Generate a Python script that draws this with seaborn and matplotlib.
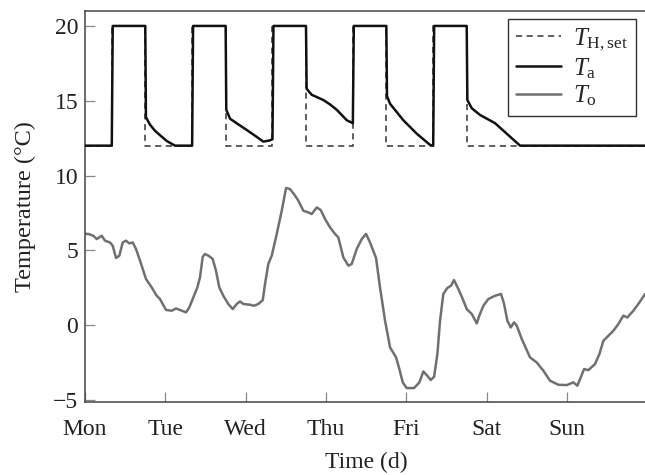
import pandas as pd
import matplotlib
matplotlib.use("Agg")
import matplotlib.pyplot as plt
import seaborn as sns

# heating set-point (step profile, weekdays 8:00-18:00)
set_time = [0, 0.333, 0.75, 1.333, 1.75, 2.333, 2.75, 3.333, 3.75, 4.333, 4.75, 7.0]
set_temp = [12, 20, 12, 20, 12, 20, 12, 20, 12, 20, 12, 12]

# indoor air temperature
ta_time = [0, 0.333, 0.345, 0.75, 0.758, 0.809, 0.87, 0.933, 1.02, 1.12, 1.333, 1.345,
           1.75, 1.758, 1.805, 1.90, 2.012, 2.12, 2.219, 2.30, 2.333, 2.345,
           2.75, 2.758, 2.821, 2.966, 3.05, 3.132, 3.257, 3.333, 3.345,
           3.75, 3.758, 3.796, 3.961, 4.128, 4.294, 4.333, 4.345,
           4.75, 4.758, 4.813, 4.916, 5.103, 5.248, 5.414, 7.0]
ta_temp = [12, 12, 20, 20, 13.9, 13.4, 13.0, 12.7, 12.3, 12.0, 12.0, 20,
           20, 14.4, 13.8, 13.45, 13.05, 12.65, 12.27, 12.35, 12.43, 20,
           20, 15.8, 15.4, 15.05, 14.75, 14.4, 13.7, 13.5, 20,
           20, 15.3, 14.8, 13.7, 12.8, 12.05, 12.0, 20,
           20, 15.05, 14.5, 14.05, 13.5, 12.8, 12.0, 12.0]

# outdoor temperature
to_time = [0.0, 0.041, 0.103, 0.146, 0.208, 0.249, 0.311, 0.345, 0.386, 0.427, 0.469,
           0.510, 0.551, 0.594, 0.635, 0.685, 0.759, 0.830, 0.892, 0.933, 1.008,
           1.079, 1.133, 1.182, 1.257, 1.298, 1.348, 1.398, 1.431, 1.465, 1.493,
           1.535, 1.589, 1.630, 1.671, 1.721, 1.783, 1.838, 1.888, 1.929, 1.970,
           2.054, 2.103, 2.157, 2.212, 2.240, 2.281, 2.324, 2.386, 2.448, 2.502,
           2.551, 2.614, 2.655, 2.717, 2.779, 2.821, 2.884, 2.933, 2.987, 3.049,
           3.111, 3.152, 3.215, 3.277, 3.319, 3.381, 3.444, 3.497, 3.547, 3.622,
           3.671, 3.734, 3.796, 3.871, 3.912, 3.954, 4.004, 4.095, 4.161, 4.210,
           4.260, 4.302, 4.344, 4.385, 4.418, 4.459, 4.509, 4.555, 4.592, 4.646,
           4.701, 4.750, 4.813, 4.875, 4.907, 4.957, 5.019, 5.103, 5.177, 5.215,
           5.256, 5.298, 5.339, 5.373, 5.435, 5.538, 5.622, 5.704, 5.787, 5.891,
           5.995, 6.077, 6.127, 6.169, 6.210, 6.264, 6.347, 6.401, 6.451, 6.513,
           6.575, 6.637, 6.699, 6.749, 6.824, 6.899, 6.970]
to_temp = [6.1, 6.10, 5.98, 5.76, 5.98, 5.65, 5.53, 5.31, 4.49, 4.65, 5.53,
           5.65, 5.47, 5.53, 5.09, 4.31, 3.09, 2.53, 1.97, 1.75, 1.02,
           0.97, 1.12, 1.02, 0.86, 1.19, 1.86, 2.53, 3.20, 4.58, 4.76,
           4.65, 4.43, 3.64, 2.53, 1.97, 1.42, 1.08, 1.42, 1.59, 1.42,
           1.37, 1.30, 1.42, 1.68, 2.75, 4.09, 4.65, 6.10, 7.65, 9.17,
           9.10, 8.66, 8.32, 7.65, 7.54, 7.43, 7.87, 7.70, 7.10, 6.54,
           6.10, 5.87, 4.53, 3.98, 4.09, 5.09, 5.76, 6.10, 5.53, 4.49,
           2.53, 0.30, -1.48, -2.15, -2.93, -3.82, -4.20, -4.20, -3.82, -3.09,
           -3.38, -3.66, -3.44, -1.93, 0.30, 2.09, 2.49, 2.64, 3.02, 2.42,
           1.75, 1.08, 0.75, 0.12, 0.64, 1.30, 1.75, 1.97, 2.09, 1.42,
           0.30, -0.15, 0.19, -0.03, -0.92, -2.15, -2.49, -3.04, -3.71, -3.98,
           -4.00, -3.82, -4.04, -3.49, -2.93, -3.00, -2.59, -1.93, -1.04, -0.70,
           -0.37, 0.08, 0.64, 0.52, 0.97, 1.52, 2.09]

day_ticks = [0, 1, 2, 3, 4, 5, 6]
day_labels = ['Mon', 'Tue', 'Wed', 'Thu', 'Fri', 'Sat', 'Sun']

sns.set_theme(style='ticks')
plt.rcParams['font.family'] = ['Liberation Serif', 'DejaVu Serif']
plt.rcParams['mathtext.fontset'] = 'custom'
plt.rcParams['mathtext.rm'] = 'Liberation Serif'
plt.rcParams['mathtext.it'] = 'Liberation Serif:italic'
plt.rcParams['font.size'] = 17

set_df = pd.DataFrame({'t': set_time, 'T': set_temp})
ta_df = pd.DataFrame({'t': ta_time, 'T': ta_temp})
to_df = pd.DataFrame({'t': to_time, 'T': to_temp})

fig = plt.figure(figsize=(6.45, 4.75), dpi=100)
ax = fig.add_axes([0.1318, 0.1537, 0.8721, 0.8232])

sns.lineplot(data=set_df, x='t', y='T', ax=ax, color='#333333', lw=1.1,
             linestyle=(0, (4, 3)), drawstyle='steps-post', zorder=2,
             label=r'$T_{\mathrm{H,set}}$')
sns.lineplot(data=ta_df, x='t', y='T', ax=ax, color='#111111', lw=1.8,
             zorder=3, label=r'$T_{\mathrm{a}}$')
sns.lineplot(data=to_df, x='t', y='T', ax=ax, color='#707070', lw=1.8,
             zorder=1, label=r'$T_{\mathrm{o}}$')

ax.set_xlim(0, 7)
ax.set_ylim(-5.13, 21.0)
ax.set_xticks(day_ticks)
ax.set_xticklabels(day_labels)
ax.set_yticks([-5, 0, 5, 10, 15, 20])
ax.tick_params(axis='both', direction='in', length=7, width=0.9, color='#888888',
               labelsize=17, labelcolor='#222222')
ax.tick_params(axis='x', pad=12)
ax.tick_params(axis='y', pad=5)

for side in ['left', 'bottom', 'top', 'right']:
    ax.spines[side].set_color('#444444')
    ax.spines[side].set_linewidth(1.1)

ax.set_xlabel('Time (d)', fontsize=17, labelpad=9, color='#222222')
ax.set_ylabel('Temperature (°C)', fontsize=17.5, labelpad=12, color='#222222')

leg = ax.legend(loc='upper right', bbox_to_anchor=(0.979, 0.979), borderaxespad=0,
                fancybox=False, framealpha=1, edgecolor='#333333', fontsize=18,
                handlelength=1.8, handletextpad=0.5, labelspacing=0.12,
                borderpad=0.3)
leg.get_frame().set_linewidth(1.0)

fig.savefig('out.png', dpi=100)
